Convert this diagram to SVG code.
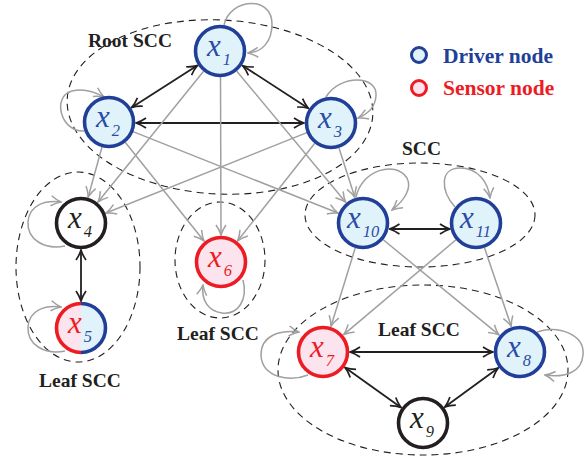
<svg xmlns="http://www.w3.org/2000/svg" width="585" height="460" viewBox="0 0 585 460">
<defs>
<style>
.g{stroke:#a0a0a0;stroke-width:1.5;fill:none;marker-end:url(#ag)}
.b{stroke:#231f20;stroke-width:1.8;fill:none;marker-start:url(#ab);marker-end:url(#ab)}
.d{stroke:#231f20;stroke-width:1.1;fill:none;stroke-dasharray:7 5}
.nb{fill:#e0f3fb;stroke:#213f99;stroke-width:3.6}
.nr{fill:#fce4ee;stroke:#ed1c24;stroke-width:3.6}
.nk{fill:#ffffff;stroke:#231f20;stroke-width:3.6}
.lx{font-family:"Liberation Serif",serif;font-style:italic;font-size:31px}
.sub{font-size:16.5px}
.tb{fill:#2b4ba6}.tr{fill:#ed1c24}.tk{fill:#231f20}
.lab{font-family:"Liberation Serif",serif;font-weight:bold;font-size:19.5px;fill:#231f20}
.leg{font-family:"Liberation Serif",serif;font-weight:bold;font-size:21.5px}
</style>
<marker id="ab" viewBox="-12 -6 13 12" refX="0" refY="0" markerWidth="13" markerHeight="12" markerUnits="userSpaceOnUse" orient="auto-start-reverse">
<path d="M-10,-5 Q-5,-1.5 0,0 Q-5,1.5 -10,5" fill="none" stroke="#231f20" stroke-width="1.7"/>
</marker>
<marker id="ag" viewBox="-12 -6 13 12" refX="0" refY="0" markerWidth="13" markerHeight="12" markerUnits="userSpaceOnUse" orient="auto">
<path d="M-10,-5 Q-5,-1.5 0,0 Q-5,1.5 -10,5" fill="none" stroke="#a0a0a0" stroke-width="1.5"/>
</marker>
</defs>
<rect width="585" height="460" fill="#ffffff"/>

<g id="scc-regions">
<ellipse class="d" cx="220" cy="107" rx="153" ry="87" transform="rotate(3 220 107)"/>
<ellipse class="d" cx="78" cy="267" rx="62" ry="95"/>
<ellipse class="d" cx="220" cy="260" rx="45" ry="58"/>
<ellipse class="d" cx="420" cy="215" rx="115" ry="52"/>
<ellipse class="d" cx="423" cy="370" rx="145" ry="85"/>
</g>

<g id="connectors">
<line class="b" x1="197.3" y1="65.6" x2="131.7" y2="107.4"/>
<line class="b" x1="242.7" y1="65.7" x2="308.3" y2="108.3"/>
<line class="b" x1="136" y1="123" x2="304" y2="123"/>
<line class="b" x1="81" y1="250" x2="81" y2="301"/>
<line class="b" x1="389.5" y1="229" x2="450" y2="229"/>
<line class="b" x1="350" y1="352" x2="493" y2="352"/>
<line class="b" x1="345" y1="367.6" x2="401" y2="407.4"/>
<line class="b" x1="498.2" y1="368" x2="444.8" y2="407"/>

<line class="g" x1="102" y1="147" x2="88.2" y2="197"/>
<line class="g" x1="203.6" y1="71.2" x2="98" y2="202"/>
<line class="g" x1="306.9" y1="132.6" x2="106" y2="213"/>
<line class="g" x1="220.5" y1="77" x2="221" y2="235"/>
<line class="g" x1="125" y1="142" x2="204" y2="241"/>
<line class="g" x1="315" y1="143" x2="237.7" y2="240.8"/>
<line class="g" x1="236.6" y1="71" x2="345.7" y2="202.2"/>
<line class="g" x1="339" y1="148" x2="354.8" y2="197.3"/>
<line class="g" x1="133" y1="131.6" x2="338" y2="213"/>
<line class="g" x1="355.3" y1="247.8" x2="331" y2="326.2"/>
<line class="g" x1="383" y1="239.5" x2="499" y2="334.9"/>
<line class="g" x1="456" y1="239.8" x2="343.7" y2="334.6"/>
<line class="g" x1="484.4" y1="247.6" x2="511.3" y2="326.5"/>

<path class="g" d="M224,25 C230,-2 272,-5 272,24 C272,42 262,52 248,53"/>
<path class="g" d="M84,131 C60,132 52,96 72,91 C84,88 95,92 104,97"/>
<path class="g" d="M326,97 C340,74 378,75 376,96 C375,108 368,114 358,118"/>
<path class="g" d="M65,246 C45,250 27,240 28,222 C29,205 45,200 61,202"/>
<path class="g" d="M65,351 C45,355 27,345 28,327 C29,310 45,305 61,307"/>
<path class="g" d="M243,280 C248,300 238,315 222,313 C208,311 201,300 203,285"/>
<path class="g" d="M356,197 C362,170 395,160 407,178 C412,188 405,200 392,210"/>
<path class="g" d="M455,207 C440,190 440,168 460,168 C478,168 488,182 490,198"/>
<path class="g" d="M308,375 C290,382 262,378 261,355 C261,335 280,330 299,332"/>
<path class="g" d="M537,332 C560,325 585,335 583,355 C582,372 565,378 545,375"/>
</g>

<g id="x1"><circle class="nb" cx="220" cy="51" r="24.5"/><text class="lx tb" x="207" y="56">x<tspan class="sub" dx="2" dy="9">1</tspan></text></g>
<g id="x2"><circle class="nb" cx="109" cy="122" r="24.5"/><text class="lx tb" x="96" y="127">x<tspan class="sub" dx="2" dy="9">2</tspan></text></g>
<g id="x3"><circle class="nb" cx="331" cy="123" r="24.5"/><text class="lx tb" x="318" y="128">x<tspan class="sub" dx="2" dy="9">3</tspan></text></g>
<g id="x4"><circle class="nk" cx="81" cy="223" r="24.5"/><text class="lx tk" x="68" y="228">x<tspan class="sub" dx="2" dy="9">4</tspan></text></g>
<g id="x5">
<path d="M81,303.5 A24.5,24.5 0 0,0 81,352.5 Z" fill="#fce4ee"/>
<path d="M81,303.5 A24.5,24.5 0 0,1 81,352.5 Z" fill="#e0f3fb"/>
<path d="M81,303.5 A24.5,24.5 0 0,0 81,352.5" fill="none" stroke="#ed1c24" stroke-width="3.6"/>
<path d="M81,303.5 A24.5,24.5 0 0,1 81,352.5" fill="none" stroke="#213f99" stroke-width="3.6"/>
<text class="lx tr" x="68" y="333">x<tspan class="sub tb" dx="2" dy="9">5</tspan></text>
</g>
<g id="x6"><circle class="nr" cx="221" cy="262" r="24.5"/><text class="lx tr" x="208" y="267">x<tspan class="sub" dx="2" dy="9">6</tspan></text></g>
<g id="x7"><circle class="nr" cx="323" cy="352" r="24.5"/><text class="lx tr" x="310" y="357">x<tspan class="sub" dx="2" dy="9">7</tspan></text></g>
<g id="x8"><circle class="nb" cx="520" cy="352" r="24.5"/><text class="lx tb" x="507" y="357">x<tspan class="sub" dx="2" dy="9">8</tspan></text></g>
<g id="x9"><circle class="nk" cx="423" cy="423" r="24.5"/><text class="lx tk" x="410" y="428">x<tspan class="sub" dx="2" dy="9">9</tspan></text></g>
<g id="x10"><circle class="nb" cx="363" cy="223" r="24.5"/><text class="lx tb" x="347" y="228">x<tspan class="sub" dx="2" dy="9">10</tspan></text></g>
<g id="x11"><circle class="nb" cx="476" cy="223" r="24.5"/><text class="lx tb" x="460" y="228">x<tspan class="sub" dx="2" dy="9">11</tspan></text></g>

<g id="labels">
<text class="lab" x="88" y="47">Root SCC</text>
<text class="lab" x="402" y="155">SCC</text>
<text class="lab" x="39" y="387">Leaf SCC</text>
<text class="lab" x="177" y="340">Leaf SCC</text>
<text class="lab" x="378" y="336">Leaf SCC</text>
</g>

<g id="legend">
<circle cx="419" cy="55" r="7.5" fill="#e0f3fb" stroke="#213f99" stroke-width="3"/>
<text class="leg" x="443" y="63" fill="#213f99">Driver node</text>
<circle cx="419" cy="88" r="7.5" fill="#fce4ee" stroke="#ed1c24" stroke-width="3"/>
<text class="leg" x="443" y="95" fill="#ed1c24">Sensor node</text>
</g>
</svg>
